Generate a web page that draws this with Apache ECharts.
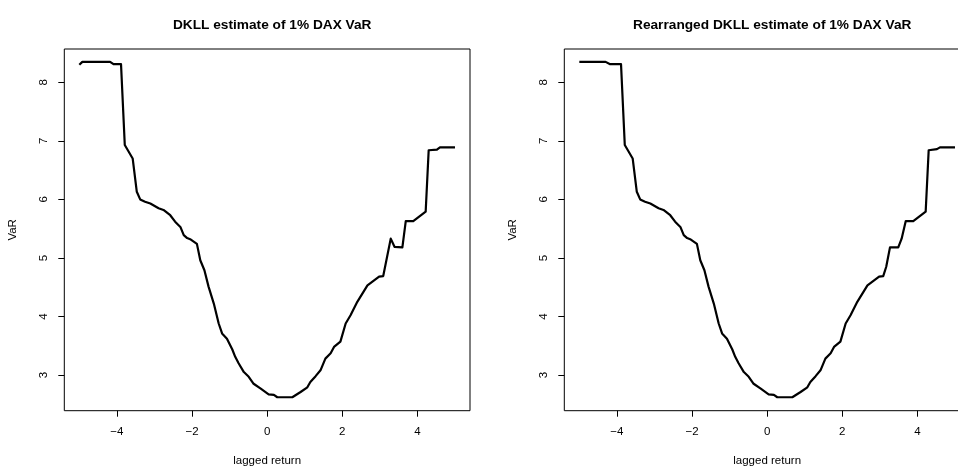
<!DOCTYPE html>
<html>
<head>
<meta charset="utf-8">
<script src="https://cdn.jsdelivr.net/npm/echarts@6/dist/echarts.min.js"></script>
<style>
html,body{margin:0;padding:0;background:#fff;overflow:hidden;width:958px;height:467px;}
#chart{width:990px;height:467px;}
</style>
</head>
<body>
<div id="chart"></div>
<script>
// ---- data ----
var titles = ['DKLL estimate of 1% DAX VaR', 'Rearranged DKLL estimate of 1% DAX VaR'];
var xTicks = [-4, -2, 0, 2, 4];
var yTicks = [3, 4, 5, 6, 7, 8];

var leftX = [-5.0,-4.92,-4.18,-4.09,-3.89,-3.79,-3.58,-3.47,-3.38,-3.25,-3.11,-2.89,-2.76,-2.58,-2.45,-2.31,-2.22,-2.13,-2.05,-1.87,-1.78,-1.67,-1.56,-1.42,-1.29,-1.2,-1.07,-0.93,-0.85,-0.76,-0.62,-0.49,-0.36,-0.18,0.04,0.18,0.27,0.67,0.89,1.07,1.15,1.29,1.42,1.55,1.69,1.78,1.95,2.09,2.22,2.4,2.67,2.98,3.09,3.29,3.39,3.6,3.69,3.89,4.22,4.30,4.52,4.6,5.0];
var leftY = [8.30,8.35,8.35,8.31,8.31,6.93,6.70,6.13,6.0,5.96,5.93,5.85,5.82,5.73,5.62,5.53,5.39,5.34,5.32,5.24,4.96,4.79,4.51,4.22,3.88,3.71,3.62,3.44,3.31,3.20,3.05,2.97,2.85,2.77,2.67,2.66,2.62,2.62,2.71,2.79,2.88,2.98,3.08,3.28,3.37,3.48,3.57,3.88,4.02,4.25,4.53,4.68,4.69,5.33,5.19,5.18,5.63,5.63,5.79,6.84,6.85,6.89,6.89];

var rightX = [-5.0,-4.30,-4.18,-3.89,-3.79,-3.58,-3.47,-3.38,-3.25,-3.11,-2.89,-2.76,-2.58,-2.45,-2.31,-2.22,-2.13,-2.05,-1.87,-1.78,-1.67,-1.56,-1.42,-1.29,-1.2,-1.07,-0.93,-0.85,-0.76,-0.62,-0.49,-0.36,-0.18,0.04,0.18,0.27,0.67,0.89,1.07,1.15,1.29,1.42,1.55,1.69,1.78,1.95,2.09,2.22,2.4,2.67,2.98,3.09,3.17,3.27,3.49,3.58,3.69,3.89,4.22,4.30,4.52,4.6,5.0];
var rightY = [8.35,8.35,8.31,8.31,6.93,6.70,6.13,6.0,5.96,5.93,5.85,5.82,5.73,5.62,5.53,5.39,5.34,5.32,5.24,4.96,4.79,4.51,4.22,3.88,3.71,3.62,3.44,3.31,3.20,3.05,2.97,2.85,2.77,2.67,2.66,2.62,2.62,2.71,2.79,2.88,2.98,3.08,3.28,3.37,3.48,3.57,3.88,4.02,4.25,4.53,4.68,4.69,4.85,5.18,5.18,5.33,5.63,5.63,5.79,6.84,6.86,6.89,6.89];

// ---- chart ----
var FONT = '"Liberation Sans", Arial, Helvetica, sans-serif';
function pairs(xs, ys) { return xs.map(function (x, i) { return [x, ys[i]]; }); }
function fmt(v) { return v < 0 ? '\u2212' + Math.abs(v) : String(v); }

var panels = [
  { left: 64.3, xs: leftX, ys: leftY },
  { left: 564.3, xs: rightX, ys: rightY }
];

var grids = [], xAxes = [], yAxes = [], series = [], titleOpts = [];
panels.forEach(function (p, i) {
  grids.push({
    left: p.left, top: 49, width: 405.7, height: 361.7,
    outerBoundsMode: 'none', containLabel: false,
    show: true, borderColor: '#000', borderWidth: 1, backgroundColor: 'transparent'
  });
  xAxes.push({
    type: 'value', gridIndex: i, min: -5.4, max: 5.4,
    name: 'lagged return', nameLocation: 'middle', nameGap: 44,
    nameTextStyle: { fontFamily: FONT, fontSize: 11.5, color: '#000' },
    axisLine: { show: false, onZero: false },
    splitLine: { show: false },
    axisTick: { show: true, inside: false, length: 6, customValues: xTicks, lineStyle: { color: '#000', width: 1 } },
    axisLabel: { customValues: xTicks, formatter: fmt, margin: 15, fontFamily: FONT, fontSize: 11.5, color: '#000' }
  });
  yAxes.push({
    type: 'value', gridIndex: i, min: 2.39, max: 8.57,
    name: 'VaR', nameLocation: 'middle', nameGap: 45, nameRotate: 90,
    nameTextStyle: { fontFamily: FONT, fontSize: 11.5, color: '#000' },
    axisLine: { show: false, onZero: false },
    splitLine: { show: false },
    axisTick: { show: true, inside: false, length: 6, customValues: yTicks, lineStyle: { color: '#000', width: 1 } },
    axisLabel: { customValues: yTicks, rotate: 90, margin: 14.5, fontFamily: FONT, fontSize: 11.5, color: '#000' }
  });
  series.push({
    type: 'line', xAxisIndex: i, yAxisIndex: i,
    data: pairs(p.xs, p.ys),
    showSymbol: false, symbol: 'none', smooth: false,
    lineStyle: { color: '#000', width: 2.2, join: 'round' },
    animation: false
  });
  titleOpts.push({
    text: titles[i], left: p.left + 202.9, top: 13, textAlign: 'center',
    textStyle: { fontFamily: FONT, fontSize: 13.7, fontWeight: 'bold', color: '#000' }
  });
});

var chart = echarts.init(document.getElementById('chart'), null, { renderer: 'canvas' });
chart.setOption({
  backgroundColor: '#fff',
  animation: false,
  title: titleOpts,
  grid: grids,
  xAxis: xAxes,
  yAxis: yAxes,
  series: series
});
</script>
</body>
</html>
